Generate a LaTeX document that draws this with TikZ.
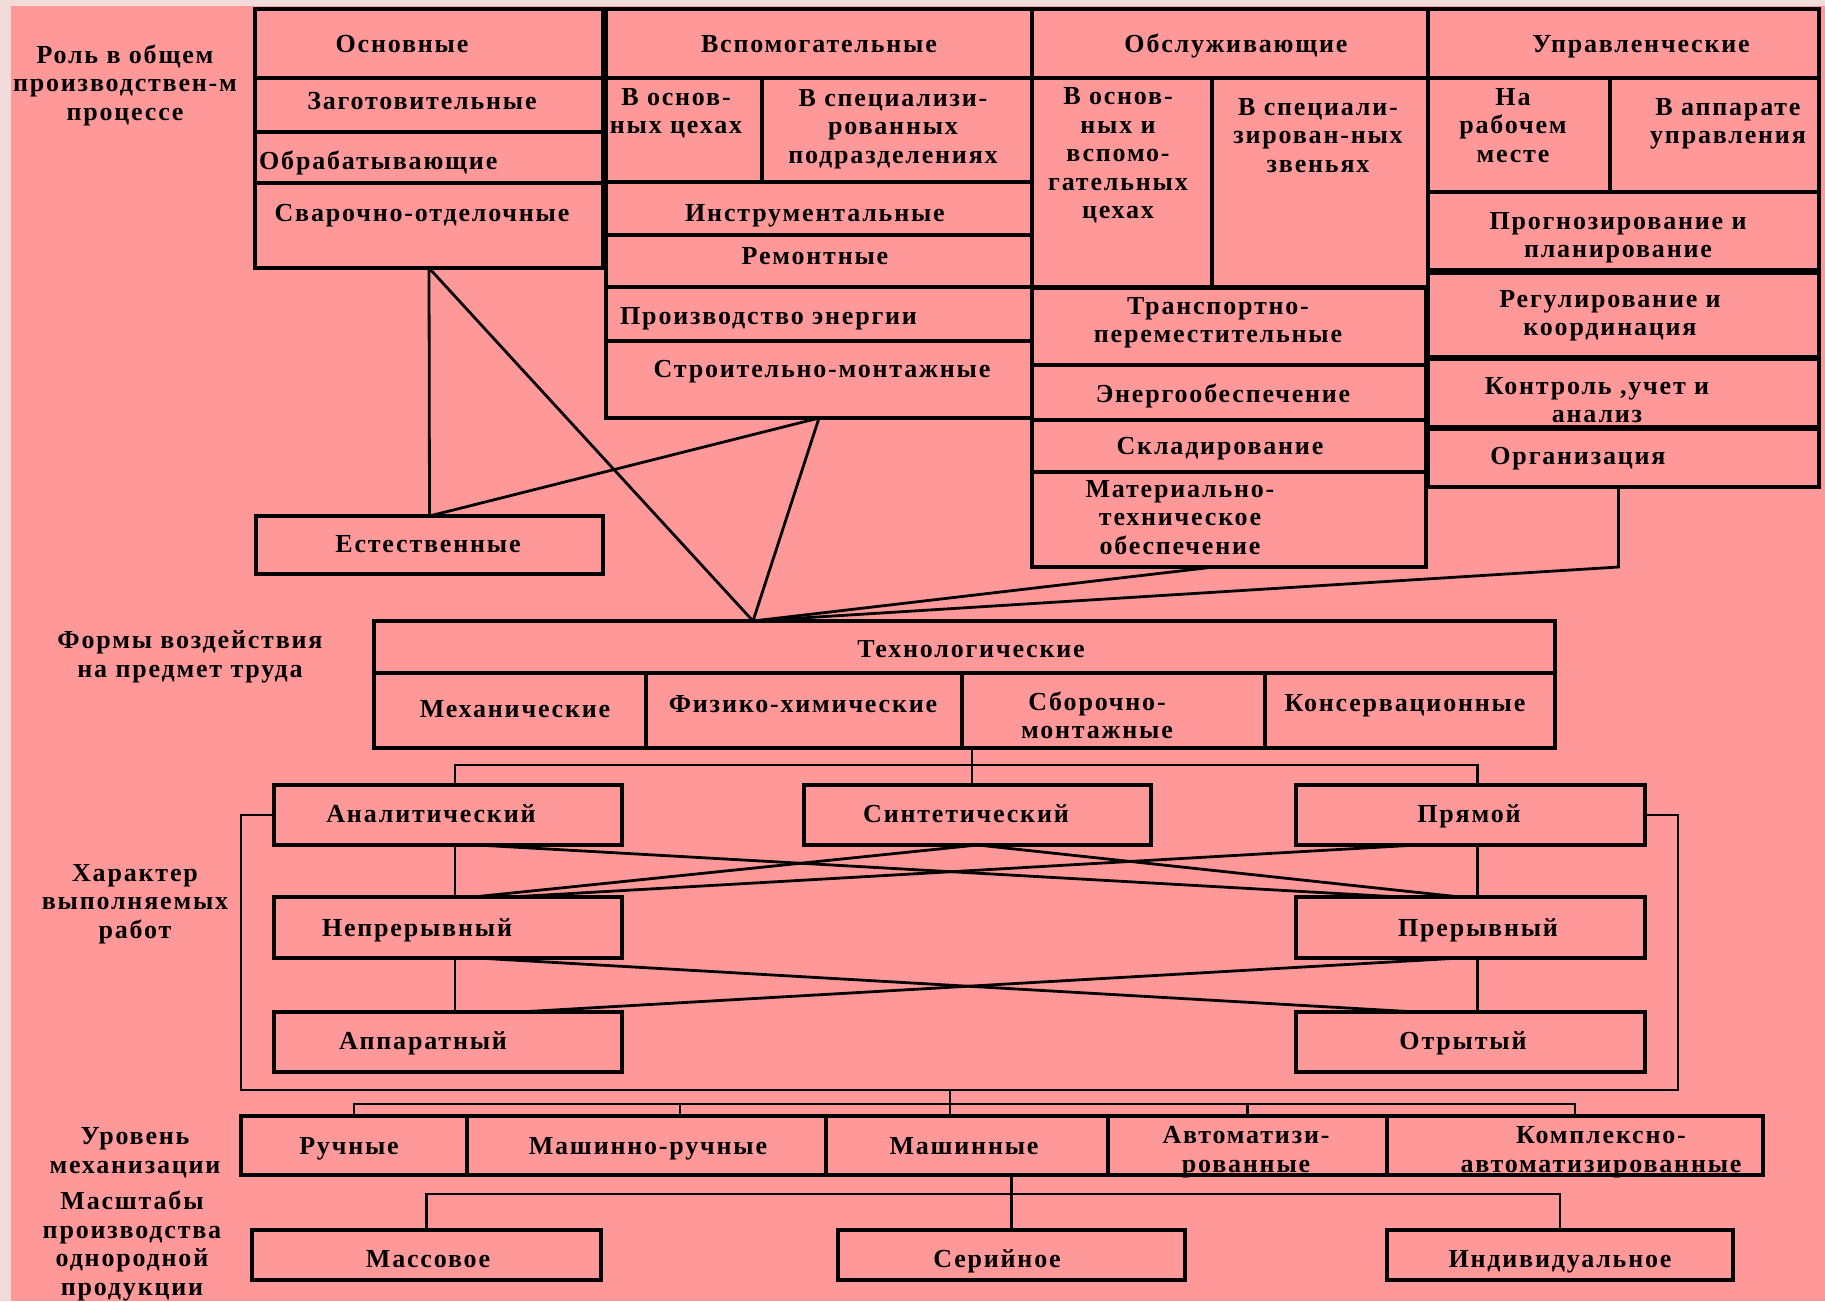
\documentclass[tikz,border=0pt]{standalone}
\usepackage{fontspec}
\setmainfont{Liberation Serif}
\newfontfamily\lblfont{Liberation Serif Bold}[LetterSpace=7]
\usetikzlibrary{calc}
\definecolor{pagebg}{HTML}{F2DCDB}
\definecolor{sheet}{HTML}{FF9999}
\tikzset{
  box/.style={draw=black, line width=3.3pt, inner sep=0pt, outer sep=0pt, rectangle},
  conn/.style={draw=black, line width=2.8pt},
  txt/.style={font=\lblfont\fontsize{26}{28.5}\selectfont, align=center, inner sep=0pt,
    yshift=-3.5pt, execute at begin node=\strut, execute at end node=\strut},
}
% \cell{name}{x1}{y1}{x2}{y2}: framed cell, y measured downwards
\newcommand{\cell}[5]{\node[box, anchor=north west, minimum width={(#4-#2)*1pt},
  minimum height={(#5-#3)*1pt}] (#1) at (#2,-#3) {};}
% \tx{name}{x}{y}{text}: centred caption
\newcommand{\tx}[4]{\node[txt] (#1) at (#2,-#3) {#4};}
\begin{document}
\begin{tikzpicture}[x=1pt, y=1pt]
\useasboundingbox (0,0) rectangle (1825,-1301);
\fill[pagebg] (0,0) rectangle (1825,-1301);
\fill[sheet] (11,-6) rectangle (1825,-1301);

% ---------- role in the production process ----------
\tx{rol}{125}{83}{Роль в общем\\производствен-м\\процессе}

\cell{osn}{255}{9}{603}{78}
\cell{zag}{255}{78}{603}{132}
\cell{obr}{255}{132}{603}{183}
\cell{svar}{255}{183}{603}{268}
\tx{osnT}{402}{43}{Основные}
\tx{zagT}{422}{100}{Заготовительные}
\node[txt, anchor=west] (obrT) at (259,-160) {Обрабатывающие};
\tx{svarT}{422}{212}{Сварочно-отделочные}

\cell{vsp}{606}{9}{1032}{78}
\cell{vosn}{606}{78}{762}{182}
\cell{vspec}{762}{78}{1032}{182}
\cell{instr}{606}{182}{1032}{235}
\cell{rem}{606}{235}{1032}{287}
\cell{proizv}{606}{287}{1032}{341}
\cell{stroi}{606}{341}{1032}{418}
\tx{vspT}{819}{43}{Вспомогательные}
\tx{vosnT}{676}{112}{В основ-\\ных цехах}
\tx{vspecT}{893}{127}{В специализи-\\рованных\\подразделениях}
\tx{instrT}{815}{212}{Инструментальные}
\tx{remT}{815}{255}{Ремонтные}
\node[txt, anchor=west] (proizvT) at (620,-315) {Производство энергии};
\tx{stroiT}{822}{368}{Строительно-монтажные}

\cell{obsl}{1032}{9}{1428}{78}
\cell{vosnb}{1032}{78}{1212}{287}
\cell{vspecb}{1212}{78}{1428}{287}
\cell{transp}{1032}{288}{1426}{365}
\cell{energ}{1032}{365}{1426}{420}
\cell{sklad}{1032}{420}{1426}{472}
\cell{mat}{1032}{472}{1426}{567}
\tx{obslT}{1236}{43}{Обслуживающие}
\tx{vosnbT}{1118}{154}{В основ-\\ных и\\вспомо-\\гательных\\цехах}
\tx{vspecbT}{1318}{136}{В специали-\\зирован-ных\\звеньях}
\tx{transpT}{1218}{321}{Транспортно-\\переместительные}
\tx{energT}{1223}{393}{Энергообеспечение}
\tx{skladT}{1220}{445}{Складирование}
\tx{matT}{1180}{518}{Материально-\\техническое\\обеспечение}

\cell{upr}{1428}{9}{1819}{78}
\cell{narab}{1428}{78}{1610}{192}
\cell{vapp}{1610}{78}{1819}{192}
\cell{progn}{1428}{192}{1819}{270}
\cell{regul}{1428}{273}{1819}{357}
\cell{kontr}{1428}{359}{1819}{427}
\cell{org}{1428}{429}{1819}{487}
\tx{uprT}{1641}{43}{Управленческие}
\tx{narabT}{1513}{126}{На\\рабочем\\месте}
\tx{vappT}{1728}{122}{В аппарате\\управления}
\tx{prognT}{1618}{236}{Прогнозирование и\\планирование}
\tx{regulT}{1610}{314}{Регулирование и\\координация}
\tx{kontrT}{1597}{401}{Контроль ,учет и\\анализ}
\tx{orgT}{1578}{455}{Организация}

\cell{est}{256}{516}{603}{574}
\tx{estT}{428}{543}{Естественные}

% ---------- forms of action on the object of labour ----------
\tx{formy}{190}{655}{Формы воздействия\\на предмет труда}
\cell{tech}{374}{621}{1555}{673}
\cell{mech}{374}{673}{646}{748}
\cell{fiz}{646}{673}{962}{748}
\cell{sbor}{962}{673}{1265}{748}
\cell{kons}{1265}{673}{1555}{748}
\tx{techT}{971}{648}{Технологические}
\tx{mechT}{515}{708}{Механические}
\tx{fizT}{803}{703}{Физико-химические}
\tx{sborT}{1097}{716}{Сборочно-\\монтажные}
\tx{konsT}{1405}{702}{Консервационные}

% fan of lines converging on the top of the technological block
\coordinate (conv) at ([xshift=379pt]tech.north west);
\draw[conn] (svar.south) -- (est.north);
\draw[conn] (svar.south) -- (conv);
\draw[conn] (est.north) -- (stroi.south);
\draw[conn] (stroi.south) -- (conv);
\draw[conn] (conv) -- ([xshift=-15pt]mat.south);
\draw[conn] (conv) -- ([xshift=-5pt]org.south |- mat.south) -- ([xshift=-5pt]org.south);

% ---------- character of the work ----------
\tx{harakter}{135}{902}{Характер\\выполняемых\\работ}
\cell{anal}{274}{785}{622}{845}
\cell{synth}{804}{785}{1151}{845}
\cell{pryam}{1296}{785}{1645}{845}
\cell{nepr}{274}{897}{622}{958}
\cell{prer}{1296}{897}{1645}{958}
\cell{appar}{274}{1012}{622}{1072}
\cell{otr}{1296}{1012}{1645}{1072}
\tx{analT}{431}{813}{Аналитический}
\tx{synthT}{966}{813}{Синтетический}
\tx{pryamT}{1469}{813}{Прямой}
\tx{neprT}{417}{927}{Непрерывный}
\tx{prerT}{1478}{927}{Прерывный}
\tx{apparT}{423}{1040}{Аппаратный}
\tx{otrT}{1463}{1040}{Отрытый}

\coordinate (hb) at (0,-765);
\draw[conn] ([xshift=10pt]sbor.south west) -- ([xshift=10pt]sbor.south west |- synth.north);
\draw[conn] ([xshift=7pt]anal.north) |- ([xshift=7pt]pryam.north |- hb) -- ([xshift=7pt]pryam.north);
\draw[conn] ([xshift=7pt]anal.south) -- ([xshift=7pt]nepr.north);
\draw[conn] ([xshift=7pt]nepr.south) -- ([xshift=7pt]appar.north);
\draw[conn] ([xshift=7pt]pryam.south) -- ([xshift=7pt]prer.north);
\draw[conn] ([xshift=7pt]prer.south) -- ([xshift=7pt]otr.north);

\coordinate (brL) at (241,-1090);
\coordinate (brR) at (1678,-1090);
\draw[conn] (anal.west) -| (brL) -- (brR) |- (pryam.east);

% crossing links between the rows
\draw[conn] ([xshift=203pt]anal.south west) -- ([xshift=104pt]prer.north west);
\draw[conn] (synth.south) -- ([xshift=199pt]nepr.north west);
\draw[conn] (synth.south) -- ([xshift=164pt]prer.north west);
\draw[conn] ([xshift=121pt]pryam.south west) -- ([xshift=236pt]nepr.north west);
\draw[conn] ([xshift=203pt]nepr.south west) -- ([xshift=121pt]otr.north west);
\draw[conn] ([xshift=245pt]appar.north west) -- ([xshift=164pt]prer.south west);

% ---------- level of mechanisation ----------
\tx{uroven}{135}{1151}{Уровень\\механизации}
\cell{ruch}{241}{1116}{467}{1175}
\cell{mr}{467}{1116}{826}{1175}
\cell{mash}{826}{1116}{1108}{1175}
\cell{avt}{1108}{1116}{1387}{1175}
\cell{kompl}{1387}{1116}{1763}{1175}
\tx{ruchT}{349}{1145}{Ручные}
\tx{mrT}{648}{1145}{Машинно-ручные}
\tx{mashT}{964}{1145}{Машинные}
\tx{avtT}{1246}{1150}{Автоматизи-\\рованные}
\tx{komplT}{1601}{1150}{Комплексно-\\автоматизированные}

\coordinate (mb) at (0,-1104);
\draw[conn] (ruch.north) |- (kompl.north |- mb) -- (kompl.north);
\draw[conn] ([xshift=213pt]mr.north west) -- ([xshift=213pt]mr.north west |- mb);
\draw[conn] (avt.north) -- (avt.north |- mb);
\draw[conn] ([xshift=124pt]mash.north west |- brL) -- ([xshift=124pt]mash.north west);

% ---------- scale of production ----------
\tx{masht}{132}{1244}{Масштабы\\производства\\однородной\\продукции}
\cell{mass}{252}{1230}{601}{1280}
\cell{ser}{838}{1230}{1185}{1280}
\cell{ind}{1387}{1230}{1733}{1280}
\tx{massT}{428}{1258}{Массовое}
\tx{serT}{997}{1258}{Серийное}
\tx{indT}{1560}{1258}{Индивидуальное}

\coordinate (sb) at (0,-1194);
\draw[conn] (mash.south -| ser.north) -- (ser.north);
\draw[conn] (mass.north) |- (ind.north |- sb) -- (ind.north);
\end{tikzpicture}
\end{document}
